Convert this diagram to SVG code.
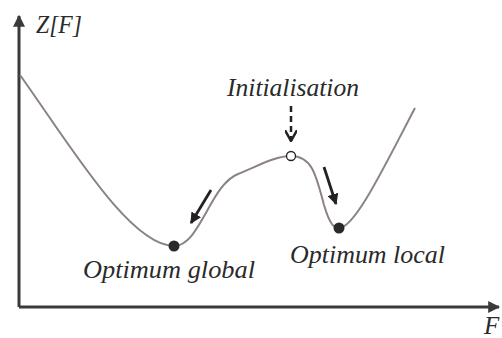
<svg xmlns="http://www.w3.org/2000/svg" width="502" height="338" viewBox="0 0 502 338">
<style>
text{font-family:'Liberation Serif','DejaVu Serif',serif;font-style:italic;font-size:25px;fill:#2a2a2a}
.axis{stroke:#3a3a3c;stroke-width:3;fill:none}
.curve{stroke:#8c8282;stroke-width:2;fill:none}
.arr{stroke:#222;stroke-width:2.8;fill:none}
</style>
<defs>
<marker id="ah" viewBox="0 0 10 10" refX="9" refY="5" markerWidth="4" markerHeight="4" orient="auto" markerUnits="strokeWidth">
<path d="M0,0 L10,5 L0,10 Z" fill="#222"/>
</marker>
<marker id="ax" viewBox="0 0 10 10" refX="9" refY="5" markerWidth="4" markerHeight="4" orient="auto" markerUnits="strokeWidth">
<path d="M0,0 L10,5 L0,10 Z" fill="#3a3a3c"/>
</marker>
<marker id="open" viewBox="0 0 10 10" refX="9" refY="5" markerWidth="5" markerHeight="5" orient="auto" markerUnits="strokeWidth">
<path d="M0,0 L9,5 L0,10" fill="none" stroke="#222" stroke-width="2"/>
</marker>
</defs>
<g id="axes">
<path class="axis" d="M19,307 L19,16" marker-end="url(#ax)"/>
<path class="axis" d="M19,307 L499,307" marker-end="url(#ax)"/>
<text x="36" y="33" textLength="46" lengthAdjust="spacingAndGlyphs">Z[F]</text>
<text x="484" y="334">F</text>
</g>
<g id="curve">
<path class="curve" d="M20,75 C70,145 130,246 174,246 C200,246 210,185 238,174 C258,166 275,156 291,156 C312,156 316,175 324,205 C330,225 334,228 339,228 C355,228 385,165 415,108"/>
</g>
<g id="connectors">
<path class="arr" d="M211,190 L191,223" marker-end="url(#ah)"/>
<path class="arr" d="M324,167 L336,204" marker-end="url(#ah)"/>
<path d="M291,106 L291,141" stroke="#222" stroke-width="2.5" stroke-dasharray="6,4" fill="none" marker-end="url(#open)"/>
</g>
<g id="init">
<circle cx="291" cy="156" r="4.5" fill="#fff" stroke="#222" stroke-width="1.3"/>
<text x="227" y="96" textLength="132" lengthAdjust="spacingAndGlyphs">Initialisation</text>
</g>
<g id="global">
<circle cx="174" cy="246" r="5.5" fill="#2a2a2c"/>
<text x="83" y="278" textLength="172" lengthAdjust="spacingAndGlyphs">Optimum global</text>
</g>
<g id="local">
<circle cx="339" cy="228" r="5.5" fill="#2a2a2c"/>
<text x="290" y="263" textLength="155" lengthAdjust="spacingAndGlyphs">Optimum local</text>
</g>
</svg>
